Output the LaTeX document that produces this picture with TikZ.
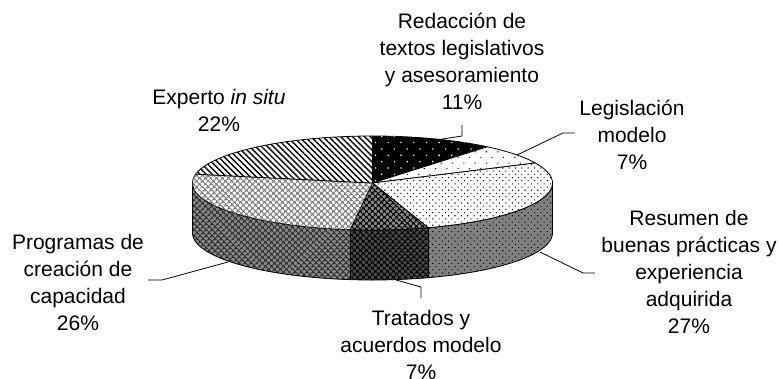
\documentclass[tikz,border=0pt]{standalone}
\usepackage{fontspec}
\setmainfont{Liberation Sans}
\usetikzlibrary{patterns.meta}
\newcommand\PEX{372.5+180*cos(\t)}
\newcommand\PET{183-47*sin(\t)}
\newcommand\PEB{233-47*sin(\t)}
\begin{document}
\begin{tikzpicture}[x=1pt,y=-1pt,
  lbl/.style={align=center,inner sep=0pt,font=\fontsize{21}{27}\selectfont},
  edge/.style={draw=black,line width=0.8pt,line join=round},
  leader/.style={draw=black,line width=0.8pt},
  pl/.style={samples=60,variable=\t},
  sRed/.style={fill=black,postaction={pattern={Dots[distance=9pt,angle=45,radius=0.9pt]},pattern color=white}},
  sLeg/.style={fill=white,postaction={pattern={Dots[distance=8pt,angle=45,radius=0.75pt]},pattern color=black}},
  sResT/.style={fill=white,postaction={pattern={Dots[distance=4.5pt,angle=45,radius=0.75pt]},pattern color=black}},
  sResS/.style={fill=black!50,postaction={pattern={Dots[distance=4.5pt,angle=45,radius=0.75pt]},pattern color=black}},
  sTraT/.style={fill=black!45,postaction={pattern={Hatch[distance=4pt,angle=45,line width=1.3pt]},pattern color=black}},
  sTraS/.style={fill=black!70,postaction={pattern={Hatch[distance=4pt,angle=45,line width=1.3pt]},pattern color=black}},
  sProT/.style={fill=white,postaction={pattern={Hatch[distance=4pt,angle=45,line width=1.3pt]},pattern color=black!50}},
  sProS/.style={fill=black!45,postaction={pattern={Hatch[distance=4pt,angle=45,line width=1.3pt]},pattern color=black!80}},
  sExp/.style={fill=white,postaction={pattern={Lines[distance=4.2pt,angle=-45,line width=1.4pt]},pattern color=black}}]
\useasboundingbox[fill=white] (0,0) rectangle (779,378);
\coordinate (C) at (372.5,183);
% sides
\path[sResS] plot[pl,domain=0:-72] ({\PEX},{\PET}) -- plot[pl,domain=-72:0] ({\PEX},{\PEB}) -- cycle;
\path[sTraS] plot[pl,domain=-72:-97.2] ({\PEX},{\PET}) -- plot[pl,domain=-97.2:-72] ({\PEX},{\PEB}) -- cycle;
\path[sProS] plot[pl,domain=-97.2:-180] ({\PEX},{\PET}) -- plot[pl,domain=-180:-97.2] ({\PEX},{\PEB}) -- cycle;
\draw[edge] plot[pl,domain=0:-180] ({\PEX},{\PET}) -- plot[pl,domain=-180:0] ({\PEX},{\PEB}) -- cycle;
\coordinate (e1) at ({372.5+180*cos(-72)},{183-47*sin(-72)});
\coordinate (e2) at ({372.5+180*cos(-72)},{233-47*sin(-72)});
\coordinate (e3) at ({372.5+180*cos(-97.2)},{183-47*sin(-97.2)});
\coordinate (e4) at ({372.5+180*cos(-97.2)},{233-47*sin(-97.2)});
\draw[edge] (e1) -- (e2);
\draw[edge] (e3) -- (e4);
% tops
\path[sRed,edge] (C) -- plot[pl,domain=90:50.4] ({\PEX},{\PET}) -- cycle;
\path[sLeg,edge] (C) -- plot[pl,domain=50.4:25.2] ({\PEX},{\PET}) -- cycle;
\path[sResT,edge] (C) -- plot[pl,domain=25.2:-72] ({\PEX},{\PET}) -- cycle;
\path[sTraT,edge] (C) -- plot[pl,domain=-72:-97.2] ({\PEX},{\PET}) -- cycle;
\path[sProT,edge] (C) -- plot[pl,domain=-97.2:-190.8] ({\PEX},{\PET}) -- cycle;
\path[sExp,edge] (C) -- plot[pl,domain=-190.8:-270] ({\PEX},{\PET}) -- cycle;
% labels
\node[lbl] (lRed) at (462,61.5) {Redacción de\\textos legislativos\\y asesoramiento\\11\%};
\node[lbl] (lLeg) at (632,135) {Legislación\\modelo\\7\%};
\node[lbl] (lRes) at (689,271.5) {Resumen de\\buenas prácticas y\\experiencia\\adquirida\\27\%};
\node[lbl] (lTra) at (421,344.5) {Tratados y\\acuerdos modelo\\7\%};
\node[lbl] (lPro) at (78,282) {Programas de\\creación de\\capacidad\\26\%};
\node[lbl] (lExp) at (219,110.5) {Experto \textit{in situ}\\22\%};
% leaders
\coordinate (rA) at (462,125); \coordinate (rB) at (462,136); \coordinate (rC) at (436,140);
\coordinate (gA) at (575,133); \coordinate (gB) at (563,133); \coordinate (gC) at (517,155);
\coordinate (sA) at (595,273); \coordinate (sB) at (583,273); \coordinate (sC) at (540,252);
\coordinate (tA) at (421,298); \coordinate (tB) at (421,287); \coordinate (tC) at (396,280);
\coordinate (pA) at (148,280); \coordinate (pB) at (162,280); \coordinate (pC) at (228,262);
\draw[leader] (rA) -- (rB) -- (rC);
\draw[leader] (gA) -- (gB) -- (gC);
\draw[leader] (sA) -- (sB) -- (sC);
\draw[leader] (tA) -- (tB) -- (tC);
\draw[leader] (pA) -- (pB) -- (pC);
\end{tikzpicture}
\end{document}
